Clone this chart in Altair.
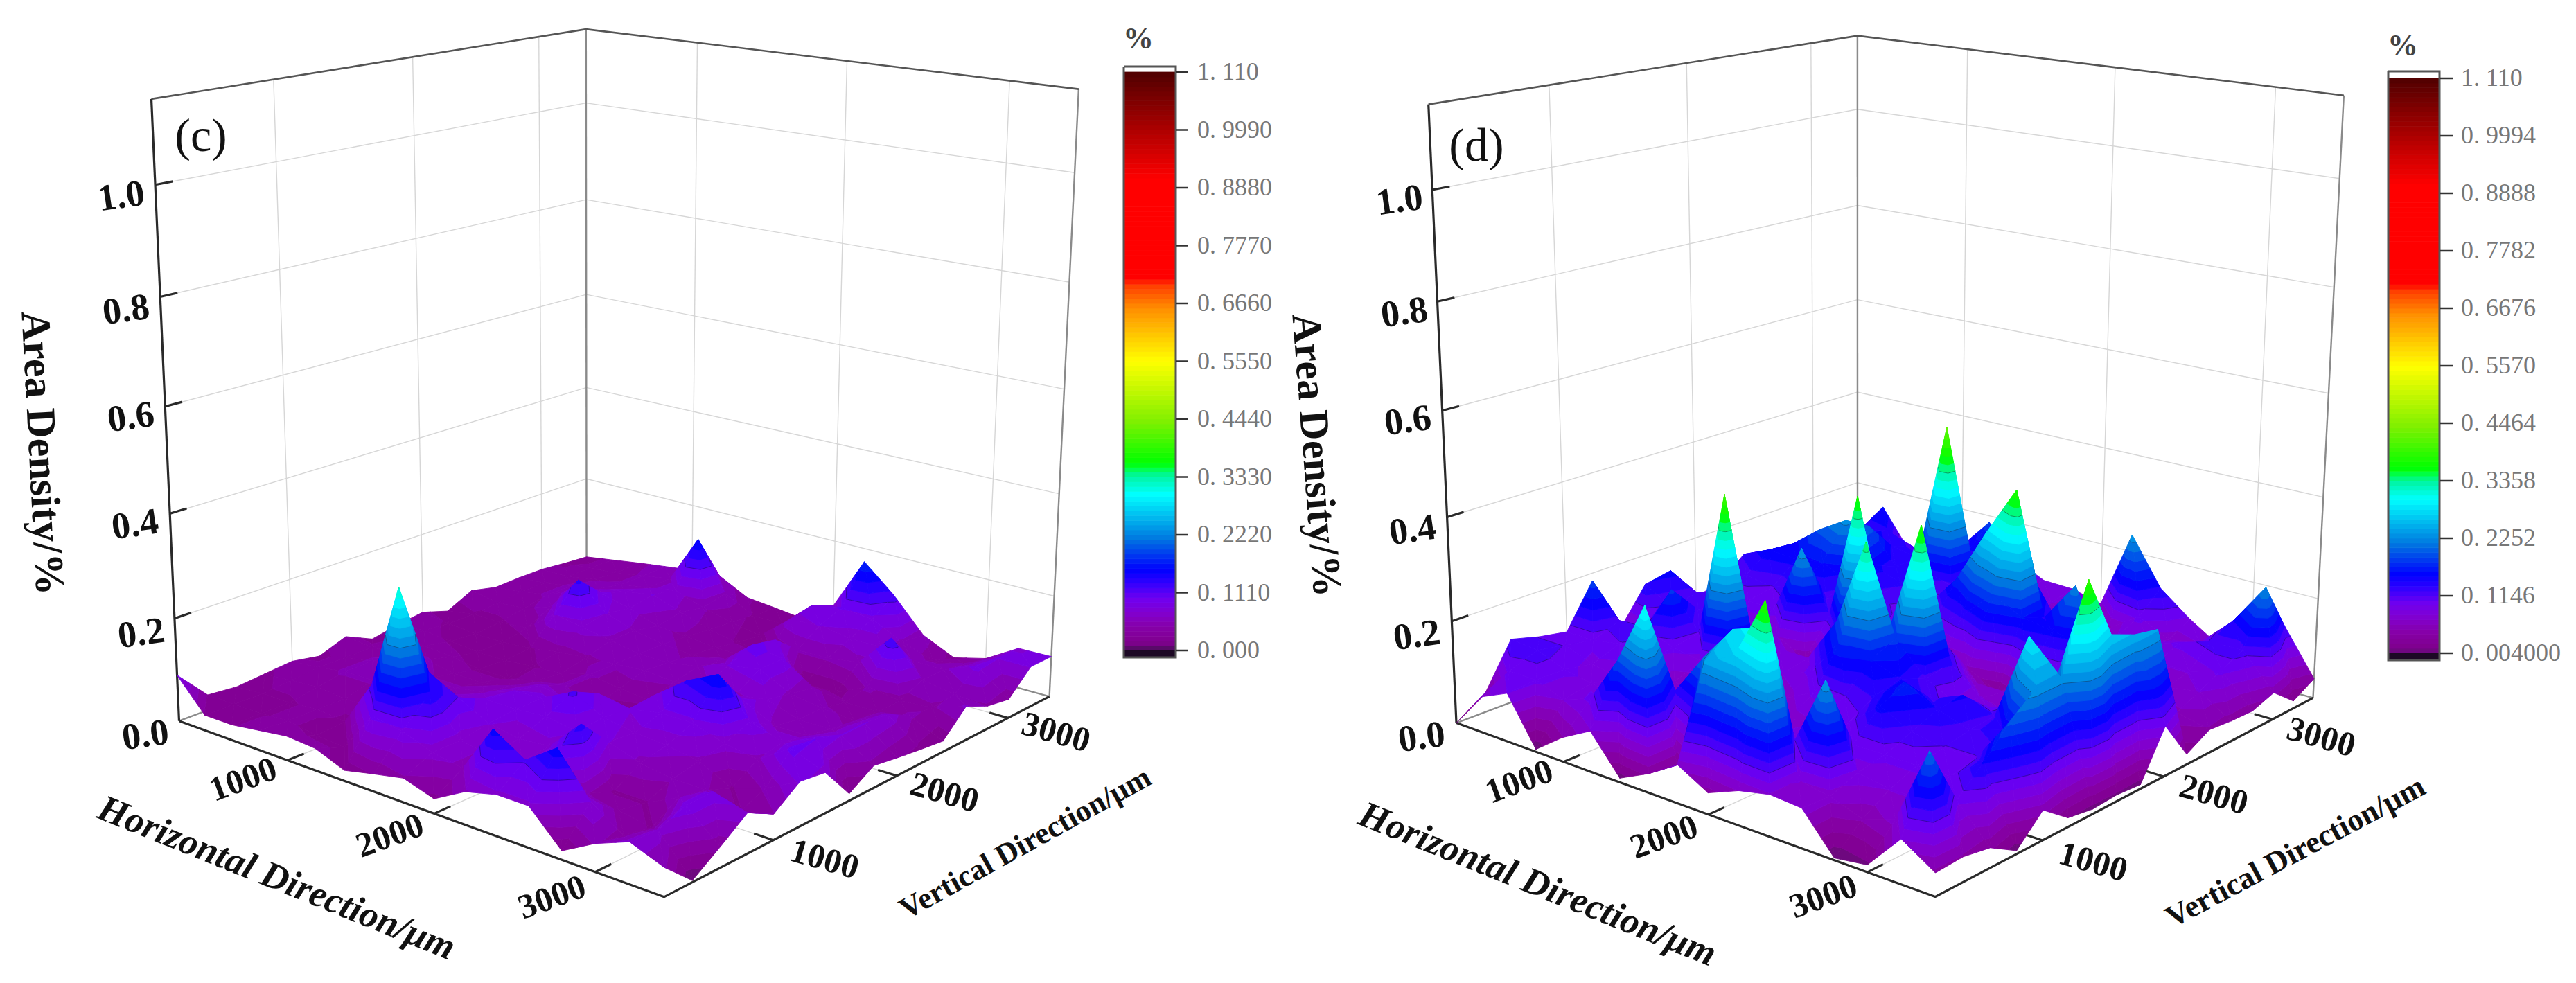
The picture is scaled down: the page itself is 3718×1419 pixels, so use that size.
import altair as alt
import numpy as np
import pandas as pd

# ---------- surface values (Area Density, %) rows: horizontal node, columns: vertical node ----------
Z_C = [
[.09,.03,.025,.03,.035,.025,.045,.02,.03,.037,.02,.045,.033,.035,.035,.03,.026],
[.03,.03,.03,.035,.04,.04,.04,.035,.035,.03,.03,.035,.04,.04,.035,.035,.035],
[.03,.03,.03,.04,.05,.05,.045,.04,.03,.025,.03,.04,.05,.05,.045,.04,.044],
[.038,.035,.035,.035,.05,.055,.05,.035,.025,.025,.035,.06,.075,.06,.05,.05,.052],
[.046,.025,.03,.035,.045,.05,.04,.028,.025,.03,.08,.132,.085,.07,.06,.06,.06],
[.042,.022,.12,.06,.05,.05,.04,.028,.03,.04,.07,.08,.07,.08,.07,.16,.064],
[.02,.10,.32,.14,.07,.06,.05,.04,.035,.045,.06,.06,.05,.06,.05,.06,.033],
[.033,.09,.14,.11,.085,.08,.07,.05,.05,.05,.05,.05,.045,.04,.035,.03,.027],
[.045,.07,.07,.08,.085,.085,.06,.025,.04,.055,.05,.045,.04,.03,.025,.03,.02],
[.027,.06,.06,.07,.09,.115,.09,.02,.035,.05,.06,.05,.04,.025,.075,.085,.065],
[.06,.151,.07,.075,.08,.085,.08,.085,.06,.06,.08,.10,.09,.05,.08,.097,.173],
[.075,.114,.10,.135,.08,.075,.09,.13,.085,.06,.09,.09,.02,.05,.07,.09,.12],
[.075,.155,.05,.03,.06,.07,.09,.16,.09,.07,.06,.05,.02,.06,.07,.06,.054],
[.016,.08,.04,.03,.05,.06,.07,.09,.06,.05,.05,.04,.05,.125,.06,.04,.025],
[.05,.04,.03,.06,.05,.03,.06,.07,.06,.05,.045,.04,.04,.06,.06,.05,.041],
[.074,.07,.09,.09,.03,.05,.10,.095,.08,.08,.075,.05,.045,.05,.085,.08,.079],
[.051,.003,.037,.073,.047,.082,.075,.013,.042,.034,.027,.021,.066,.045,.037,.08,.08],
]
Z_D = [
[.00,.035,.125,.11,.10,.185,.067,.14,.15,.075,.09,.13,.12,.10,.09,.08,.07],
[.07,.10,.12,.11,.10,.12,.09,.11,.12,.10,.12,.155,.15,.14,.13,.13,.16],
[.095,.10,.10,.09,.11,.12,.18,.12,.11,.10,.11,.15,.195,.17,.15,.14,.08],
[.005,.08,.09,.08,.09,.10,.11,.09,.09,.10,.13,.16,.23,.20,.14,.12,.10],
[.047,.10,.08,.07,.07,.09,.40,.09,.08,.24,.12,.13,.15,.13,.13,.11,.12],
[.078,.19,.10,.06,.06,.05,.11,.09,.05,.12,.13,.12,.13,.14,.42,.14,.186],
[.008,.31,.13,.08,.06,.06,.08,.09,.10,.375,.12,.10,.10,.12,.14,.13,.12],
[.036,.03,.21,.09,.07,.07,.10,.18,.04,.12,.08,.10,.17,.11,.10,.09,.092],
[.072,.24,.28,.10,.07,.10,.18,.35,.17,.08,.05,.13,.28,.12,.08,.08,.09],
[.04,.27,.30,.083,.08,.11,.16,.18,.38,.13,.06,.19,.38,.17,.06,.05,.075],
[.064,.385,.11,.08,.10,.13,.14,.12,.13,.07,.03,.16,.14,.08,.07,.06,.235],
[.077,.08,.24,.10,.15,.17,.12,.09,.08,.07,.08,.15,.22,.10,.08,.10,.14],
[.073,.07,.09,.10,.12,.14,.145,.10,.07,.06,.08,.14,.10,.07,.08,.07,.092],
[.004,.05,.08,.10,.11,.12,.125,.12,.10,.08,.07,.07,.08,.08,.10,.08,.053],
[.013,.07,.08,.10,.11,.14,.29,.17,.12,.10,.10,.08,.07,.08,.12,.14,.11],
[.08,.21,.10,.145,.196,.235,.23,.39,.27,.25,.24,.06,.08,.10,.12,.225,.13],
[.042,.045,.036,.006,.055,.017,.009,.012,.008,.096,.02,.045,.04,.038,.053,.015,.039],
]
Z_TICKS = [0.0, 0.2, 0.4, 0.6, 0.8, 1.0]
Z_LABELS = ["0.0", "0.2", "0.4", "0.6", "0.8", "1.0"]
XY_TICKS = [1000, 2000, 3000]
XY_MIN, XY_MAX, Z_TOP = 200, 3400, 1.15
BAR_C = ["0. 000","0. 1110","0. 2220","0. 3330","0. 4440","0. 5550","0. 6660","0. 7770","0. 8880","0. 9990","1. 110"]
BAR_D = ["0. 004000","0. 1146","0. 2252","0. 3358","0. 4464","0. 5570","0. 6676","0. 7782","0. 8888","0. 9994","1. 110"]
COLOR_Z = [-.2,0,.006,.016,.045,.07,.10,.13,.155,.215,.30,.335,.345,.36,.44,.555,.655,.70,.715,.905,.995,1.11]
COLOR_RGB = ["#1a0a20","#20082a","#6a0a7c","#80008e","#8600a8","#8200cc","#7000f0","#3000ff","#0000ff","#0078e0",
             "#00ffff","#00f5a0","#00ff60","#00ff00","#80f000","#ffff00","#ff9000","#ff4000","#ff0000","#ff0000","#b00000","#500000"]
BAND = 1.11 / 70
CONTOURS = [.111, .222, .333, .444]

# ---------- camera: anchors of the box on the page, (u, v, z) -> (px, py) ----------
def col(u, v, xs, ys):
    return [(u, v, z, x, y) for z, x, y in zip([0, .2, .4, .6, .8, 1.0, Z_TOP], xs, ys)]

def norm(t):
    return (t - XY_MIN) / (XY_MAX - XY_MIN)

def anchors(left, back, right, front, xt, yt):
    a = col(0, 0, *left) + col(0, 1, *back) + col(1, 1, *right) + [(1, 0, 0, *front)]
    a += [(norm(t), 0, 0, *p) for t, p in zip(XY_TICKS, xt)]
    a += [(1, norm(t), 0, *p) for t, p in zip(XY_TICKS, yt)]
    return a

CAM_C = anchors(([255,255,246,238,231,224,217],[1042,890,740,585,428,267,143]),
                ([846]*7,[822,692,559,425,289,149,42]),
                ([1517,1524,1530,1537,1543,1551,1557],[1005,858,711,562,408,249,130]),
                (957,1297), [(418,1097),(628,1177),(864,1260)], [(1111,1213),(1290,1118),(1453,1036)])
CAM_D = anchors(([2098,2095,2088,2082,2075,2067,2060],[1044,895,744,592,434,274,153]),
                ([2681]*7,[828,697,566,432,297,159,51]),
                ([3344,3347,3355,3359,3368,3378,3384],[1007,863,716,566,414,258,139]),
                (2791,1299), [(2262,1098),(2468,1176),(2701,1259)], [(2945,1215),(3118,1121),(3274,1037)])

def camera(pts):
    A = []
    for u, v, z, x, y in pts:
        X = [u, v, z, 1]
        A.append(X + [0, 0, 0, 0] + [-x * a for a in X])
        A.append([0, 0, 0, 0] + X + [-y * a for a in X])
    P = np.linalg.svd(np.array(A, float))[2][-1].reshape(3, 4)
    def project(u, v, z):
        h = P @ np.array([u, v, z, 1.0])
        return [round(float(h[0] / h[2]), 1), round(float(h[1] / h[2]), 1)]
    return project

def line(points):
    return {"type": "Feature", "properties": {}, "geometry": {"type": "LineString", "coordinates": points}}

def clip(poly, level, keep_above):
    out = []
    n = len(poly)
    for k in range(n):
        a, b = poly[k], poly[(k + 1) % n]
        ina = (a[2] >= level) if keep_above else (a[2] <= level)
        inb = (b[2] >= level) if keep_above else (b[2] <= level)
        if ina:
            out.append(a)
        if ina != inb:
            t = (level - a[2]) / (b[2] - a[2])
            out.append(tuple(a[m] + t * (b[m] - a[m]) for m in range(3)))
    return out

def surface(Z, project):
    feats = []
    n = len(Z) - 1
    def node(i, j):
        return (i / n, j / n, Z[i][j])
    def triangle(tri):
        zs = [p[2] for p in tri]
        k0 = int(min(zs) // BAND)
        k1 = int(max(zs) // BAND)
        for k in range(k0, k1 + 1):
            lo, hi = k * BAND, (k + 1) * BAND
            poly = clip(clip(tri, lo, True), hi, False)
            if len(poly) < 3:
                continue
            ring = [project(*p) for p in poly]
            ring.append(ring[0])
            zm = round((lo + hi) / 2, 4)
            feats.append({"type": "Feature",
                          "properties": {"z": zm, "s": zm, "f": 1, "w": 0.9, "o": 1},
                          "geometry": {"type": "Polygon", "coordinates": [ring]}})
        for lev in CONTOURS:
            if min(zs) < lev < max(zs):
                seg = []
                for m in range(3):
                    a, b = tri[m], tri[(m + 1) % 3]
                    if (a[2] - lev) * (b[2] - lev) < 0:
                        t = (lev - a[2]) / (b[2] - a[2])
                        seg.append(project(*[a[q] + t * (b[q] - a[q]) for q in range(3)]))
                if len(seg) == 2:
                    feats.append({"type": "Feature",
                                  "properties": {"z": lev, "s": -.1, "f": 0, "w": 1.0, "o": .4},
                                  "geometry": {"type": "LineString", "coordinates": seg}})
    for i in range(n):
        for j in range(n - 1, -1, -1):
            triangle([node(i, j), node(i + 1, j), node(i, j + 1)])
            triangle([node(i + 1, j + 1), node(i + 1, j), node(i, j + 1)])
    return feats

def colorbar(x0, x1, y_of, zmin):
    feats = []
    steps = 120
    for k in range(steps):
        a = zmin + (1.11 - zmin) * k / steps
        b = zmin + (1.11 - zmin) * (k + 1) / steps
        ya, yb = y_of(a), y_of(b)
        feats.append({"type": "Feature",
                      "properties": {"z": (a + b) / 2, "s": (a + b) / 2, "f": 1, "w": .8, "o": 1},
                      "geometry": {"type": "Polygon",
                                   "coordinates": [[[x0, ya], [x1, ya], [x1, yb], [x0, yb], [x0, ya]]]}})
    yb = y_of(zmin)
    feats.append({"type": "Feature", "properties": {"z": -.1, "s": -.1, "f": 1, "w": .8, "o": 1},
                  "geometry": {"type": "Polygon",
                               "coordinates": [[[x0, yb], [x1, yb], [x1, yb + 10], [x0, yb + 10], [x0, yb]]]}})
    return feats

def frame(project):
    grid, gray, dark, edge = [], [], [], []
    for z in Z_TICKS[1:]:
        grid.append(line([project(0, 0, z), project(0, 1, z), project(1, 1, z)]))
    for t in XY_TICKS:
        u = norm(t)
        grid.append(line([project(u, 1, 0), project(u, 1, Z_TOP)]))
        grid.append(line([project(0, u, 0), project(0, u, Z_TOP)]))
        grid.append(line([project(u, 0, 0), project(u, 1, 0)]))
        grid.append(line([project(0, u, 0), project(1, u, 0)]))
        dark.append(line([project(u, 0, 0), project(u, .035, 0)]))
        dark.append(line([project(1, u, 0), project(.965, u, 0)]))
    gray.append(line([project(0, 1, 0), project(0, 1, Z_TOP)]))
    gray.append(line([project(1, 1, 0), project(1, 1, Z_TOP)]))
    gray.append(line([project(0, 0, 0), project(0, 1, 0), project(1, 1, 0)]))
    edge.append(line([project(0, 0, Z_TOP), project(0, 1, Z_TOP), project(1, 1, Z_TOP)]))
    dark.append(line([project(0, 0, 0), project(0, 0, Z_TOP)]))
    dark.append(line([project(0, 0, 0), project(1, 0, 0), project(1, 1, 0)]))
    for z in Z_TICKS[1:]:
        dark.append(line([project(0, 0, z), project(0, .035, z)]))
    return grid, gray, dark, edge

PROJ = dict(type="identity", scale=1, translate=[-8, -8])

def lines_layer(features, color, width):
    return alt.Chart(alt.Data(values=features)).mark_geoshape(
        filled=False, stroke=color, strokeWidth=width).project(**PROJ)

def text_layer(rows, font="Liberation Serif", weight="normal", style="normal", color="#111111", align="center"):
    return alt.Chart(pd.DataFrame(rows)).mark_text(
        font=font, fontWeight=weight, fontStyle=style, color=color, align=align, baseline="middle"
    ).encode(longitude="x:Q", latitude="y:Q", text="t:N",
             angle=alt.Angle("a:Q", scale=None), size=alt.Size("s:Q", scale=None)).project(**PROJ)

pc, pd_ = camera(CAM_C), camera(CAM_D)
features = surface(Z_C, pc) + surface(Z_D, pd_)
y_c = lambda z: 939 - z / 1.11 * 835
y_d = lambda z: 943 - (z - .004) / 1.106 * 830
features += colorbar(1622, 1697, y_c, 0.0) + colorbar(3447, 3521, y_d, 0.004)

gc, gyc, dc, ec = frame(pc)
gd, gyd, dd, ed = frame(pd_)

bar_boxes = [line([[1622, 96], [1697, 96], [1697, 949], [1622, 949], [1622, 96]]),
             line([[3447, 103], [3521, 103], [3521, 953], [3447, 953], [3447, 103]])]
bar_ticks = []
for k in range(11):
    yc = 939 - k * 83.5
    yd = 943 - k * 83.0
    bar_ticks.append(line([[1697, yc], [1714, yc]]))
    bar_ticks.append(line([[3521, yd], [3541, yd]]))

scale = alt.Scale(domain=COLOR_Z, range=COLOR_RGB, interpolate="rgb")
surf = alt.Chart(alt.Data(values=features)).mark_geoshape().encode(
    fill=alt.Fill("properties.z:Q", scale=scale, legend=None),
    stroke=alt.Stroke("properties.s:Q", scale=scale, legend=None),
    fillOpacity=alt.FillOpacity("properties.f:Q", scale=None),
    strokeWidth=alt.StrokeWidth("properties.w:Q", scale=None),
    strokeOpacity=alt.StrokeOpacity("properties.o:Q", scale=None),
).project(**PROJ)

TS = 54
z_rows = []
for lab, (x, y), (x2, y2) in zip(Z_LABELS,
        [(210,1062),(204,915),(195,758),(189,603),(182,448),(175,284)],
        [(2052,1065),(2045,918),(2039,766),(2032,608),(2027,452),(2020,290)]):
    z_rows.append(dict(x=x, y=y, t=lab, a=352, s=TS))
    z_rows.append(dict(x=x2, y=y2, t=lab, a=352, s=TS))
z_rows += [dict(x=351,y=1126,t="1000",a=340,s=50), dict(x=563,y=1207,t="2000",a=340,s=50), dict(x=797,y=1296,t="3000",a=340,s=50),
           dict(x=2193,y=1129,t="1000",a=340,s=50), dict(x=2402,y=1209,t="2000",a=340,s=50), dict(x=2632,y=1295,t="3000",a=340,s=50),
           dict(x=1190,y=1241,t="1000",a=16,s=50), dict(x=1363,y=1145,t="2000",a=16,s=50), dict(x=1524,y=1058,t="3000",a=16,s=50),
           dict(x=3021,y=1245,t="1000",a=16,s=50), dict(x=3195,y=1148,t="2000",a=16,s=50), dict(x=3350,y=1065,t="3000",a=16,s=50),
           dict(x=60,y=654,t="Area Density/%",a=87,s=60), dict(x=1899,y=657,t="Area Density/%",a=85.6,s=60),
           dict(x=1480,y=1218,t="Vertical Direction/μm",a=331,s=44), dict(x=3313,y=1230,t="Vertical Direction/μm",a=332,s=45)]
h_rows = [dict(x=399,y=1268,t="Horizontal Direction/μm",a=22,s=54), dict(x=2219,y=1277,t="Horizontal Direction/μm",a=22,s=54)]
panel_rows = [dict(x=290,y=198,t="(c)",a=0,s=68), dict(x=2131,y=212,t="(d)",a=0,s=68)]
pct_rows = [dict(x=1643,y=57,t="%",a=0,s=44), dict(x=3468,y=67,t="%",a=0,s=44)]
bar_rows = [dict(x=1728, y=939 - k * 83.5, t=BAR_C[k], a=0, s=36) for k in range(11)] + \
           [dict(x=3552, y=943 - k * 83.0, t=BAR_D[k], a=0, s=36) for k in range(11)]

chart = alt.layer(
    lines_layer(gc + gd, "#d6d6d6", 1.4),
    lines_layer(gyc + gyd, "#8a8a8a", 2.4),
    lines_layer(ec + ed, "#555555", 2.6),
    lines_layer(dc + dd, "#2a2a2a", 3.2),
    surf,
    lines_layer(bar_boxes, "#555555", 3),
    lines_layer(bar_ticks, "#333333", 2.5),
    text_layer(z_rows, weight="bold"),
    text_layer(h_rows, weight="bold", style="italic"),
    text_layer(panel_rows),
    text_layer(pct_rows, weight="bold", color="#444444"),
    text_layer(bar_rows, color="#777777", align="left"),
).properties(width=3702, height=1403, padding=0, background="white",
             autosize=alt.AutoSizeParams(type="none")).configure_view(stroke=None)

chart.save("out.html", embed_options={"renderer": "svg", "actions": False})
